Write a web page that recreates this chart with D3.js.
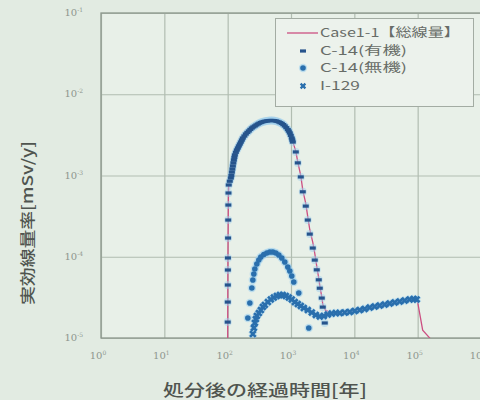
<!DOCTYPE html>
<html>
<head>
<meta charset="utf-8">
<script src="https://cdn.jsdelivr.net/npm/d3@7"></script>
<style>
body { margin: 0; background: #e2ebe2; }
svg { display: block; font-family: "Noto Sans CJK JP", "Noto Sans", sans-serif; }
</style>
</head>
<body>
<svg id="chart" width="480" height="400"></svg>
<script>
//// chart values
var xTicks = [1, 10, 100, 1e3, 1e4, 1e5, 1e6];
var xTickExp = ["0", "1", "2", "3", "4", "5", "6"];
var yTicks = [1e-1, 1e-2, 1e-3, 1e-4, 1e-5];
var yTickExp = ["-1", "-2", "-3", "-4", "-5"];
var seriesNames = ["Case1-1【総線量】", "C-14(有機)", "C-14(無機)", "I-129"];

// Case1-1 total dose [year, mSv/y]
var totalDose = [
  [100.1, 8e-6], [100.2, 1.6e-5], [100.4, 2.8e-5], [100.6, 4.5e-5], [100.8, 6.9e-5],
  [101, 9.7e-5], [101.5, 1.7e-4], [102, 2.85e-4], [102.5, 4.35e-4], [103, 6.1e-4],
  [104, 7.7e-4], [108, 8.6e-4], [112, 9.5e-4], [117, 1.12e-3], [121, 1.33e-3],
  [125, 1.57e-3], [130, 1.81e-3], [140, 2.08e-3], [150, 2.33e-3], [162, 2.61e-3],
  [174, 2.92e-3], [194, 3.27e-3], [216, 3.57e-3], [241, 3.88e-3], [269, 4.11e-3],
  [300, 4.35e-3], [334, 4.54e-3], [372, 4.67e-3], [415, 4.74e-3], [463, 4.8e-3],
  [516, 4.8e-3], [576, 4.74e-3], [642, 4.6e-3], [716, 4.41e-3], [798, 4.11e-3],
  [890, 3.72e-3], [957, 3.37e-3], [1029, 2.92e-3], [1068, 2.61e-3], [1191, 1.98e-3],
  [1281, 1.46e-3], [1428, 9.9e-4], [1535, 6.6e-4], [1712, 4.5e-4], [1841, 3.1e-4],
  [1980, 2.15e-4], [2208, 1.5e-4], [2373, 1.1e-4], [2552, 7.6e-5], [2745, 5.4e-5],
  [2847, 4.4e-5], [3061, 3.2e-5], [3175, 2.6e-5], [3500, 2.2e-5], [4093, 2.05e-5],
  [5089, 2.04e-5], [7058, 2.07e-5], [10146, 2.16e-5], [14588, 2.29e-5], [20980, 2.45e-5],
  [30170, 2.59e-5], [43380, 2.75e-5], [62370, 2.9e-5], [86490, 3.03e-5], [96430, 2.99e-5],
  [100000, 2.77e-5], [120000, 1.25e-5], [155000, 1.0e-5], [175000, 7e-6]
];

// C-14 organic
var c14Organic = [
  [100.2, 1.57e-5], [100.4, 2.77e-5], [100.6, 4.49e-5], [100.8, 6.87e-5], [101, 9.66e-5],
  [101.5, 1.7e-4], [102, 2.83e-4], [102.5, 4.33e-4], [103, 6.09e-4], [104, 7.64e-4],
  [108, 8.5e-4], [112.3, 9.31e-4], [114.4, 1.0e-3], [116.5, 1.1e-3], [118.6, 1.2e-3],
  [120.8, 1.31e-3], [123, 1.43e-3], [125.3, 1.55e-3], [127.6, 1.67e-3], [129.9, 1.79e-3],
  [134.7, 1.93e-3], [139.7, 2.06e-3], [144.9, 2.18e-3], [150.2, 2.31e-3], [155.8, 2.44e-3],
  [161.6, 2.58e-3], [167.6, 2.73e-3], [173.7, 2.89e-3], [183.5, 3.06e-3], [193.7, 3.24e-3],
  [204.5, 3.39e-3], [216, 3.53e-3], [228, 3.69e-3], [240.8, 3.84e-3], [254, 3.96e-3],
  [268.5, 4.07e-3], [283.5, 4.19e-3], [299.5, 4.3e-3], [316, 4.4e-3], [334, 4.49e-3],
  [353, 4.56e-3], [372.4, 4.62e-3], [393, 4.66e-3], [415.3, 4.69e-3], [438, 4.72e-3],
  [463.1, 4.75e-3], [489, 4.76e-3], [516.4, 4.75e-3], [545, 4.73e-3], [575.9, 4.69e-3],
  [608, 4.63e-3], [642.1, 4.56e-3], [678, 4.47e-3], [716, 4.37e-3], [756, 4.23e-3],
  [798.4, 4.07e-3], [843, 3.88e-3], [890.4, 3.68e-3], [923, 3.52e-3], [957.4, 3.34e-3],
  [992, 3.12e-3], [1029, 2.89e-3], [1048, 2.73e-3], [1068, 2.58e-3], [1191, 1.95e-3],
  [1281, 1.43e-3], [1428, 9.6e-4], [1535, 6.3e-4], [1712, 4.2e-4], [1841, 2.83e-4],
  [1980, 1.9e-4], [2208, 1.28e-4], [2373, 9.1e-5], [2552, 6.9e-5], [2745, 5.2e-5],
  [2847, 4.1e-5], [3061, 3.1e-5], [3175, 2.4e-5], [3413, 1.53e-5]
];

// C-14 inorganic
var c14Inorganic = [
  [208.3, 1.76e-5], [224, 2.7e-5], [240.8, 4.12e-5], [249.8, 5.17e-5], [259, 6.13e-5],
  [268.5, 7.07e-5], [288.8, 8.14e-5], [310.5, 9.12e-5], [334, 9.93e-5], [372.4, 1.066e-4],
  [415.3, 1.112e-4], [463.1, 1.144e-4], [516.4, 1.144e-4], [575.9, 1.112e-4], [642.1, 1.051e-4],
  [716, 9.65e-5], [798.4, 8.62e-5], [890.4, 7.48e-5], [957.4, 6.68e-5], [1029, 5.79e-5],
  [1107, 4.89e-5], [1327, 3.58e-5], [1909, 1.33e-5]
];

// I-129
var i129 = [
  [249.8, 1.12e-5], [259, 1.33e-5], [268.5, 1.53e-5], [278.5, 1.71e-5], [288.8, 1.87e-5],
  [310.5, 2.03e-5], [334, 2.21e-5], [359.2, 2.41e-5], [386.2, 2.55e-5], [430.7, 2.77e-5],
  [480.3, 2.98e-5], [535.6, 3.15e-5], [597.1, 3.29e-5], [665.8, 3.38e-5], [742.6, 3.38e-5],
  [827.9, 3.29e-5], [923.3, 3.15e-5], [1029, 2.98e-5], [1148, 2.77e-5], [1281, 2.62e-5],
  [1428, 2.48e-5], [1592, 2.34e-5], [1841, 2.21e-5], [2129, 2.06e-5], [2461, 1.92e-5],
  [2847, 1.84e-5], [3292, 1.87e-5], [3806, 1.95e-5], [4400, 2.0e-5], [5089, 2.03e-5],
  [5886, 2.03e-5], [7058, 2.06e-5], [8461, 2.09e-5], [10146, 2.15e-5], [12166, 2.21e-5],
  [14588, 2.28e-5], [17498, 2.37e-5], [20980, 2.44e-5], [25160, 2.51e-5], [30170, 2.58e-5],
  [36180, 2.66e-5], [43380, 2.74e-5], [52020, 2.81e-5], [62370, 2.89e-5], [74780, 2.98e-5],
  [86490, 3.02e-5], [96430, 2.98e-5]
];

//// layout
var svg = d3.select("svg#chart");
var plotL = 101, plotR = 481, plotT = 13, plotB = 338;

var x = d3.scaleLog().domain([1, 1e6]).range([plotL, plotR]);
var y = d3.scaleLog().domain([1e-5, 1e-1]).range([plotB, plotT]);

var lineColor = "#cc4f82",
    blue = "#2a6fad",
    halo = "#9fd0ee",
    navy = "#26548c";

svg.append("defs").append("clipPath").attr("id", "plotclip")
   .append("rect")
   .attr("x", plotL).attr("y", plotT)
   .attr("width", plotR - plotL).attr("height", plotB - plotT);

// plot background
svg.append("rect")
   .attr("x", plotL).attr("y", plotT)
   .attr("width", plotR - plotL).attr("height", plotB - plotT)
   .attr("fill", "#e8f0e8");

// grid
var xGrid = svg.append("g")
   .attr("transform", "translate(0," + plotB + ")")
   .call(d3.axisBottom(x).tickValues(xTicks).tickSize(-(plotB - plotT)).tickFormat(""));
var yGrid = svg.append("g")
   .attr("transform", "translate(" + plotL + ",0)")
   .call(d3.axisLeft(y).tickValues(yTicks).tickSize(-(plotR - plotL)).tickFormat(""));
[xGrid, yGrid].forEach(function(g) {
    g.select(".domain").remove();
    g.selectAll("line").attr("stroke", "#b1bdb1").attr("stroke-width", 1.2);
});

// plot frame
svg.append("rect")
   .attr("x", plotL).attr("y", plotT)
   .attr("width", plotR - plotL).attr("height", plotB - plotT)
   .attr("fill", "none")
   .attr("stroke", "#8c978c")
   .attr("stroke-width", 1.3);

// tick labels
var xLab = svg.selectAll("text.xtick")
   .data(xTicks)
   .enter().append("text")
   .attr("class", "xtick")
   .attr("x", function(d) { return x(d) - 3; })
   .attr("y", 359)
   .attr("text-anchor", "middle")
   .attr("fill", "#8e968e")
   .attr("font-family", "DejaVu Serif, serif")
   .attr("font-size", 10);
xLab.append("tspan").text("10");
xLab.append("tspan")
   .attr("font-size", 6).attr("dy", -4)
   .text(function(d, i) { return xTickExp[i]; });

var yLab = svg.selectAll("text.ytick")
   .data(yTicks)
   .enter().append("text")
   .attr("class", "ytick")
   .attr("x", 83)
   .attr("y", function(d) { return y(d) + 3; })
   .attr("text-anchor", "end")
   .attr("fill", "#8e968e")
   .attr("font-family", "DejaVu Serif, serif")
   .attr("font-size", 10);
yLab.append("tspan").text("10");
yLab.append("tspan")
   .attr("font-size", 6).attr("dy", -4)
   .text(function(d, i) { return yTickExp[i]; });

// axis titles
svg.append("text")
   .attr("x", 265).attr("y", 396)
   .attr("text-anchor", "middle")
   .attr("fill", "#4f544f")
   .attr("font-size", 16)
   .attr("font-weight", 500)
   .attr("textLength", 204).attr("lengthAdjust", "spacingAndGlyphs")
   .text("処分後の経過時間[年]");

svg.append("text")
   .attr("transform", "translate(33,223) rotate(-90)")
   .attr("text-anchor", "middle")
   .attr("fill", "#4f544f")
   .attr("font-size", 15)
   .attr("font-weight", 500)
   .attr("textLength", 164).attr("lengthAdjust", "spacingAndGlyphs")
   .text("実効線量率[mSv/y]");

//// series
var plot = svg.append("g").attr("clip-path", "url(#plotclip)");

var line = d3.line()
   .x(function(d) { return x(d[0]); })
   .y(function(d) { return y(d[1]); });

plot.append("path")
   .datum(totalDose)
   .attr("d", line)
   .attr("fill", "none")
   .attr("stroke", lineColor)
   .attr("stroke-width", 1.3);

function xMark(sel, size) {
    sel.attr("d", function(d) {
        var cx = x(d[0]), cy = y(d[1]), s = size;
        return "M" + (cx - s) + "," + (cy - s) + "L" + (cx + s) + "," + (cy + s) +
               "M" + (cx - s) + "," + (cy + s) + "L" + (cx + s) + "," + (cy - s);
    });
}

// halos
plot.selectAll("circle.halo-in").data(c14Inorganic).enter().append("circle")
   .attr("class", "halo-in")
   .attr("cx", function(d) { return x(d[0]); })
   .attr("cy", function(d) { return y(d[1]); })
   .attr("r", 4.2).attr("fill", halo).attr("opacity", 0.6);
plot.selectAll("circle.halo-org").data(c14Organic).enter().append("circle")
   .attr("class", "halo-org")
   .attr("cx", function(d) { return x(d[0]); })
   .attr("cy", function(d) { return y(d[1]); })
   .attr("r", 4).attr("fill", halo).attr("opacity", 0.5);
plot.selectAll("path.halo-i").data(i129).enter().append("path")
   .attr("class", "halo-i")
   .call(xMark, 3)
   .attr("stroke", halo).attr("stroke-width", 4.5).attr("opacity", 0.6);

// I-129 markers
plot.selectAll("path.i129").data(i129).enter().append("path")
   .attr("class", "i129")
   .call(xMark, 2.8)
   .attr("stroke", blue).attr("stroke-width", 2.6);

// C-14 inorganic markers
plot.selectAll("circle.c14in").data(c14Inorganic).enter().append("circle")
   .attr("class", "c14in")
   .attr("cx", function(d) { return x(d[0]); })
   .attr("cy", function(d) { return y(d[1]); })
   .attr("r", 2.8).attr("fill", blue);

// C-14 organic markers
plot.selectAll("rect.c14org").data(c14Organic).enter().append("rect")
   .attr("class", "c14org")
   .attr("x", function(d) { return x(d[0]) - 3; })
   .attr("y", function(d) { return y(d[1]) - 1.6; })
   .attr("width", 6).attr("height", 3.2)
   .attr("fill", navy);

//// legend
var legend = svg.append("g");
legend.append("rect")
   .attr("x", 275.5).attr("y", 18.5)
   .attr("width", 198).attr("height", 88)
   .attr("fill", "#ecf2ec")
   .attr("stroke", "#a3aca3");

var rowY = [33, 51, 68, 86];
var textLen = [140, 87, 87, 40];
legend.selectAll("text.leg")
   .data(seriesNames)
   .enter().append("text")
   .attr("class", "leg")
   .attr("x", 320)
   .attr("y", function(d, i) { return rowY[i] + 4; })
   .attr("fill", "#676c67")
   .attr("font-size", 12)
   .attr("textLength", function(d, i) { return textLen[i]; })
   .attr("lengthAdjust", "spacingAndGlyphs")
   .text(function(d) { return d; });

legend.append("line")
   .attr("x1", 287).attr("x2", 318)
   .attr("y1", rowY[0]).attr("y2", rowY[0])
   .attr("stroke", lineColor).attr("stroke-width", 1.3);
legend.append("rect")
   .attr("x", 300).attr("y", rowY[1] - 1.6)
   .attr("width", 6).attr("height", 3.2)
   .attr("fill", navy);
legend.append("circle")
   .attr("cx", 303).attr("cy", rowY[2]).attr("r", 4.2)
   .attr("fill", halo).attr("opacity", 0.6);
legend.append("circle")
   .attr("cx", 303).attr("cy", rowY[2]).attr("r", 2.8)
   .attr("fill", blue);
legend.append("path")
   .attr("d", "M300.6," + (rowY[3] - 2.4) + "L305.4," + (rowY[3] + 2.4) +
              "M300.6," + (rowY[3] + 2.4) + "L305.4," + (rowY[3] - 2.4))
   .attr("stroke", blue).attr("stroke-width", 2.2);
</script>
</body>
</html>
